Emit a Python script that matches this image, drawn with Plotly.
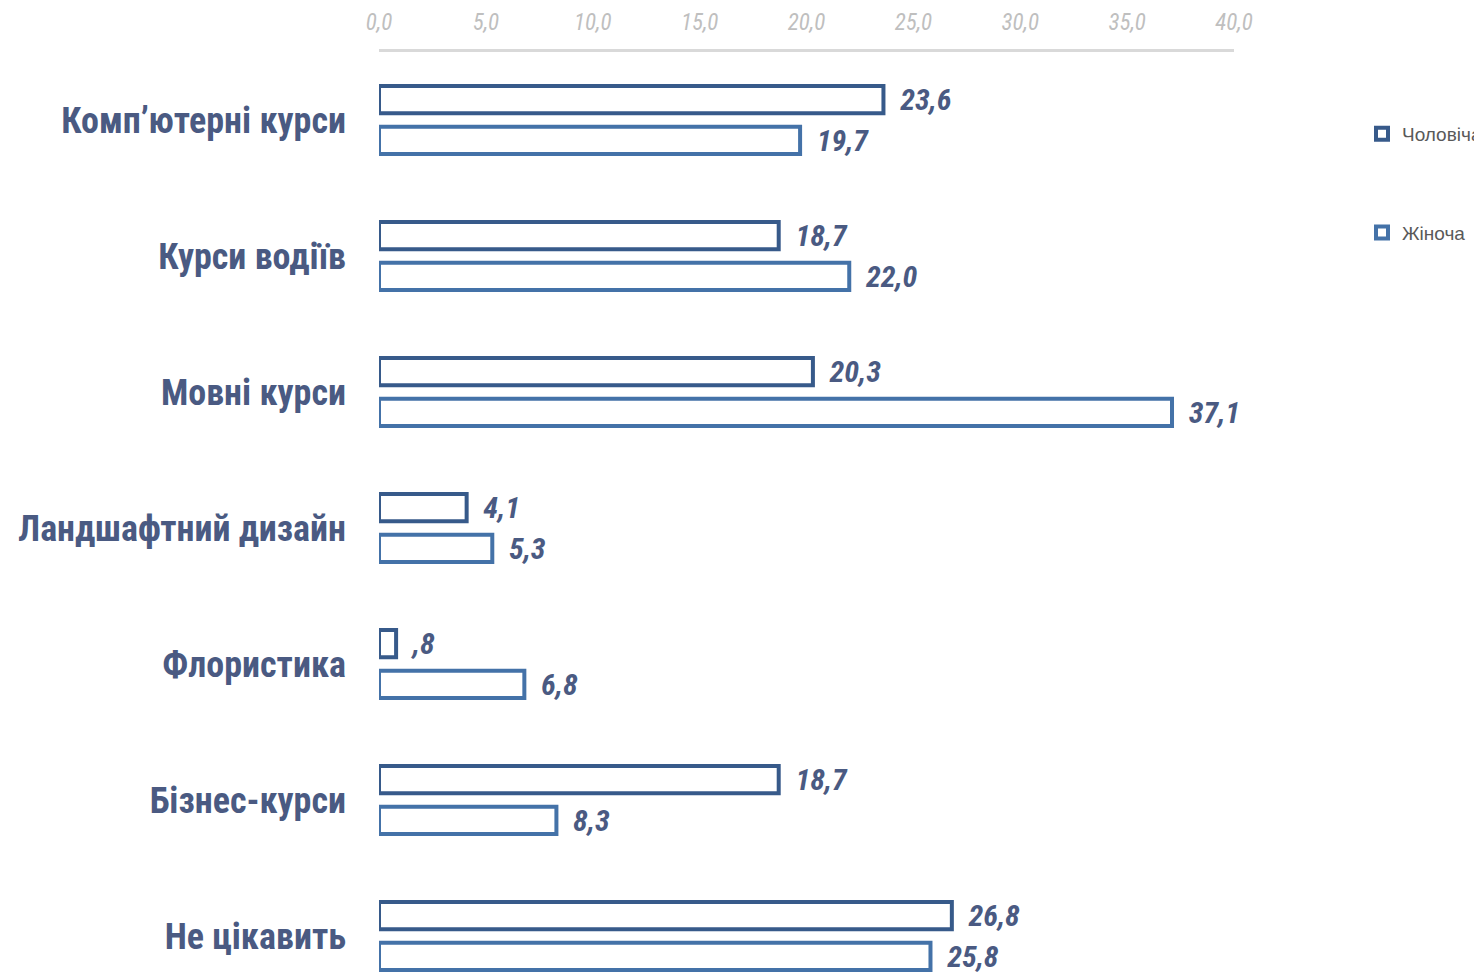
import plotly.graph_objects as go

categories = ["Комп’ютерні курси", "Курси водіїв", "Мовні курси", "Ландшафтний дизайн",
              "Флористика", "Бізнес-курси", "Не цікавить"]
male = [23.6, 18.7, 20.3, 4.1, 0.8, 18.7, 26.8]
female = [19.7, 22.0, 37.1, 5.3, 6.8, 8.3, 25.8]
tick_vals = [0, 5, 10, 15, 20, 25, 30, 35, 40]


def fmt(v):
    s = f"{v:.1f}".replace(".", ",")
    if s.startswith("0,") and v != 0:
        s = s[1:]
    return s


FONT = "Liberation Sans Narrow, Arial Narrow, Roboto Condensed, sans-serif"
LABEL_COLOR = "#4a5a82"
PAD = "\u00a0\u00a0"

fig = go.Figure()
fig.add_trace(go.Bar(
    name="Чоловіча", y=categories, x=male, orientation="h",
    marker=dict(color="white", line=dict(color="#375a8a", width=4)),
    text=[PAD + fmt(v) for v in male], textposition="outside", cliponaxis=False,
    constraintext="none",
    textfont=dict(family=FONT, size=30, color=LABEL_COLOR, weight="bold", style="italic"),
    legendgroup="m",
))
fig.add_trace(go.Bar(
    name="Жіноча", y=categories, x=female, orientation="h",
    marker=dict(color="white", line=dict(color="#4472a8", width=4)),
    text=[PAD + fmt(v) for v in female], textposition="outside", cliponaxis=False,
    constraintext="none",
    textfont=dict(family=FONT, size=30, color=LABEL_COLOR, weight="bold", style="italic"),
    legendgroup="f",
))

fig.update_layout(
    width=1482, height=975,
    margin=dict(l=371, r=256, t=44, b=8, autoexpand=False),
    paper_bgcolor="white", plot_bgcolor="white",
    barmode="group", bargap=0.40, bargroupgap=0.33,
    showlegend=True,
    legend=dict(x=(1354 - 371) / 855, xanchor="left", y=(967 - 107) / 923, yanchor="top",
                font=dict(family="Liberation Sans, Arial, sans-serif", size=19, color="#595959"),
                tracegroupgap=71, traceorder="grouped", itemwidth=30,
                bgcolor="rgba(0,0,0,0)"),
    xaxis=dict(side="top", range=[0, 40], tickvals=tick_vals,
               ticktext=[fmt(v) for v in tick_vals],
               tickfont=dict(family=FONT, size=23, color="#bfbfbf", style="italic"),
               showgrid=False, zeroline=False, showline=True, linecolor="#d9d9d9", linewidth=3,
               ticks="", ticklabelstandoff=10),
    yaxis=dict(range=[-0.5 + 923 / 136, -0.5], showgrid=False, zeroline=False, ticks="",
               tickfont=dict(family=FONT, size=36, color=LABEL_COLOR, weight="bold"),
               ticklabelstandoff=32, showline=False),
)

fig.write_html("out.html")
